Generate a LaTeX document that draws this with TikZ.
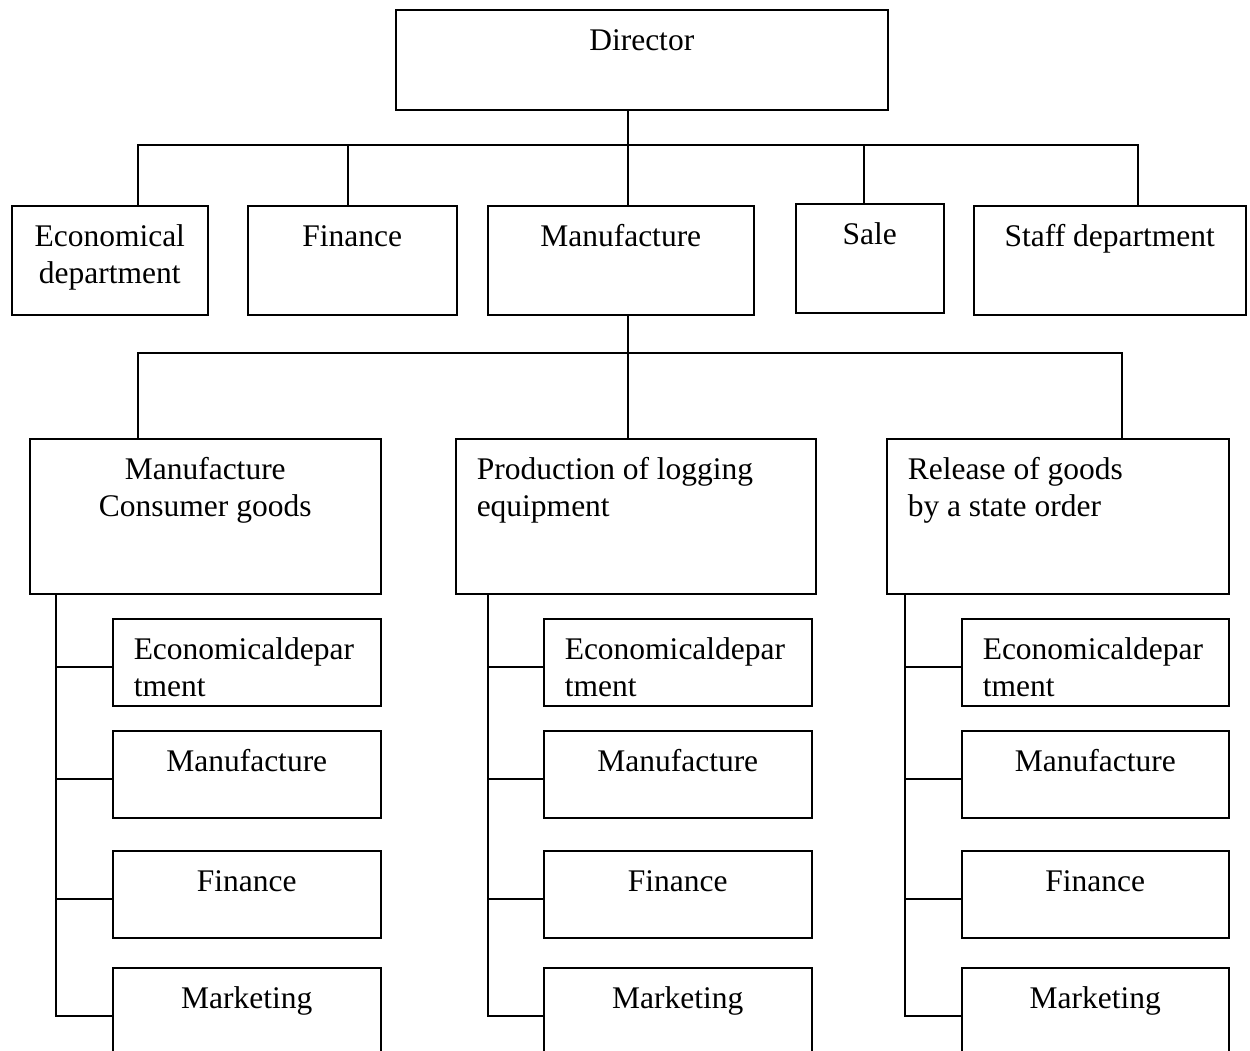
\documentclass[tikz,border=0pt]{standalone}
\usepackage{fontspec}
\setmainfont{Liberation Serif}
\usepackage{tikz}
\usetikzlibrary{calc}

% box contents: width, height, text (top aligned)
\newcommand{\orgc}[3]{\parbox[t][#2pt][t]{#1pt}{\centering\rule{0pt}{41pt}#3}}
\newcommand{\orgl}[3]{\parbox[t][#2pt][t]{#1pt}{\raggedright\leftskip=21pt\rule{0pt}{41pt}#3}}

\tikzset{
  unit/.style={draw, line width=1.5pt, inner sep=0pt, anchor=north west,
    font=\fontsize{31.5}{37}\selectfont},
  link/.style={line width=1.5pt, line cap=rect}
}

\begin{document}
\begin{tikzpicture}[x=1pt, y=-1pt]
\useasboundingbox (0,0) rectangle (1250,1050);
\clip (0,0) rectangle (1250,1050);

% First, define the boxes of the two upper levels
\draw (395,9) node[unit] (dir) {\orgc{492}{100}{Director}};
\draw (11,205) node[unit] (econ) {\orgc{196}{109}{Economical\\department}};
\draw (247,205) node[unit] (fin) {\orgc{209}{109}{Finance}};
\draw (487,205) node[unit] (man) {\orgc{266}{109}{Manufacture}};
\draw (795,203) node[unit] (sale) {\orgc{148}{109}{Sale}};
\draw (973,205) node[unit] (staff) {\orgc{272}{109}{Staff department}};

\draw (29,438) node[unit] (cons) {\orgc{351}{155}{Manufacture\\Consumer goods}};
\draw (455,438) node[unit] (log) {\orgl{360}{155}{Production of logging\\equipment}};
\draw (886,438) node[unit] (state) {\orgl{342}{155}{Release of goods\\by a state order}};

% Director to the departments
\foreach \n/\x in {econ/138, fin/348, man/628, sale/864, staff/1138} {
  \coordinate (j-\n) at (\x,145);
  \draw[link] (j-\n) -- (j-\n |- \n.north);
}
\draw[link] (j-econ) -- (j-staff);
\draw[link] (dir.south -| j-man) -- (j-man);

% Manufacture to its three branches
\foreach \n/\x in {cons/138, log/628, state/1122} {
  \coordinate (k-\n) at (\x,353);
  \draw[link] (k-\n) -- (k-\n |- \n.north);
}
\draw[link] (k-cons) -- (k-state);
\draw[link] (man.south -| k-log) -- (k-log);

% Now the four units under each branch, hung from a side line
\foreach \g/\sx/\bx/\bw in {cons/56/112/268, log/488/543/268, state/905/961/267} {
  \draw (\bx,618) node[unit] (\g-1) {\orgl{\bw}{87}{Economicaldepar\\tment}};
  \draw (\bx,730) node[unit] (\g-2) {\orgc{\bw}{87}{Manufacture}};
  \draw (\bx,850) node[unit] (\g-3) {\orgc{\bw}{87}{Finance}};
  \draw (\bx,967) node[unit] (\g-4) {\orgc{\bw}{87}{Marketing}};
  \coordinate (s-\g) at (\sx,0);
  \draw[link] (\g.south -| s-\g) -- ([yshift=-4.5pt]\g-4.west -| s-\g);
  \foreach \i in {1,...,4}
    \draw[link] ([yshift=-4.5pt]\g-\i.west -| s-\g) -- ([yshift=-4.5pt]\g-\i.west);
}
\end{tikzpicture}
\end{document}
